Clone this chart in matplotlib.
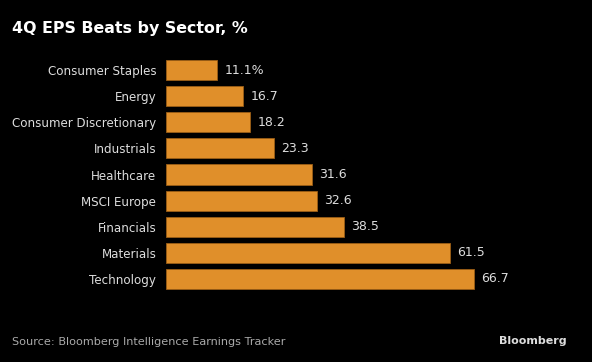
import matplotlib.pyplot as plt

sectors = ['Consumer Staples', 'Energy', 'Consumer Discretionary', 'Industrials',
           'Healthcare', 'MSCI Europe', 'Financials', 'Materials', 'Technology']
beats = [11.1, 16.7, 18.2, 23.3, 31.6, 32.6, 38.5, 61.5, 66.7]
value_labels = ['11.1%', '16.7', '18.2', '23.3', '31.6', '32.6', '38.5', '61.5', '66.7']

bg = 'black'
bar_color = '#e08f2a'

fig = plt.figure(figsize=(5.92, 3.62), dpi=100, facecolor=bg)
ax = fig.add_axes([166 / 592, 1 - 292 / 362, 400 / 592, 235 / 362])
ax.set_facecolor(bg)

pos = list(range(len(sectors)))
ax.barh(pos, beats, height=0.77, color=bar_color, edgecolor='#9c5e16', linewidth=0.6)

for p, v, lab in zip(pos, beats, value_labels):
    ax.text(v + 1.6, p, lab, va='center', ha='left', color='#dddddd', fontsize=9)

ax.set_yticks(pos)
ax.set_yticklabels(sectors, color='#dddddd', fontsize=8.6)
ax.tick_params(axis='y', length=0, pad=7)
ax.set_xticks([])
ax.set_xlim(0, 400 / 4.62)
ax.set_ylim(8.5, -0.5)
for s in ax.spines.values():
    s.set_visible(False)

fig.text(12 / 592, 1 - 28 / 362, '4Q EPS Beats by Sector, %', color='white',
         fontsize=11.4, fontweight='bold', va='center', ha='left')
fig.text(12 / 592, 1 - 342 / 362, 'Source: Bloomberg Intelligence Earnings Tracker',
         color='#aaaaaa', fontsize=8.1, va='center', ha='left')
fig.text(567 / 592, 1 - 341 / 362, 'Bloomberg', color='#dddddd',
         fontsize=8, fontweight='bold', va='center', ha='right')

fig.savefig('out.png', dpi=100, facecolor=bg)
